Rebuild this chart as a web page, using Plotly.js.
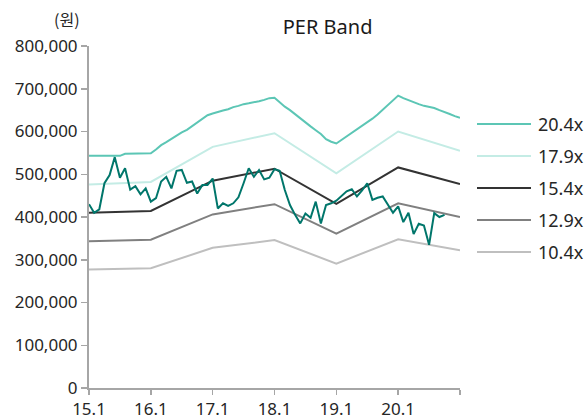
<!DOCTYPE html>
<html>
<head>
<meta charset="utf-8">
<script src="https://cdn.plot.ly/plotly-3.0.1.min.js"></script>
<style>
html,body{margin:0;padding:0;background:#fff;}
#chart{width:585px;height:419px;}
</style>
</head>
<body>
<div id="chart"></div>
<script>
// x positions: months since Jan 2015
var tickVals = [0, 12, 24, 36, 48, 60, 72];
var tickText = ['15.1', '16.1', '17.1', '18.1', '19.1', '20.1', ''];

// Band anchor months (yearly)
var bandMonths = [0, 12, 24, 36, 48, 60, 72];
var band179 = [476000, 482000, 564000, 596000, 502000, 600000, 555000];
var band154 = [410000, 414000, 485000, 513000, 431000, 516000, 477000];
var band129 = [343000, 347000, 406000, 430000, 361000, 432000, 400000];
var band104 = [277000, 280000, 328000, 346000, 291000, 348000, 322000];

// 20.4x band, monthly (m0..m72)
var band204 = [
  543000, 543000, 543000, 543000, 543000, 543000, 543000, 548000, 548000, 548000, 548000, 548000,
  549000, 558000, 568000, 575000, 583000, 590000, 598000, 604000, 612000, 620000, 630000, 638000,
  642000, 646000, 649000, 652000, 657000, 660000, 664000, 666000, 668000, 671000, 674000, 678000,
  679000, 668000, 658000, 650000, 640000, 630000, 620000, 612000, 603000, 594000, 582000, 576000,
  572000, 580000, 588000, 596000, 606000, 614000, 622000, 630000, 640000, 651000, 662000, 672000,
  684000, 678000, 673000, 668000, 664000, 660000, 658000, 655000, 650000, 646000, 641000, 636000,
  632000
];

// Monthly stock price (m0..m69)
var price = [
  430000, 410000, 418000, 479000, 498000, 540000, 492000, 514000, 464000, 472000, 453000, 467000,
  436000, 444000, 483000, 494000, 467000, 508000, 510000, 480000, 483000, 455000, 475000, 475000,
  490000, 420000, 432000, 426000, 432000, 446000, 479000, 514000, 494000, 510000, 488000, 492000,
  512000, 508000, 463000, 428000, 405000, 385000, 408000, 398000, 436000, 385000, 428000, 432000,
  438000, 450000, 460000, 465000, 448000, 462000, 479000, 440000, 445000, 448000, 430000, 410000,
  425000, 388000, 410000, 360000, 384000, 380000, 335000, 409000, 400000, 405000
];

var names = ['20.4x', '17.9x', '15.4x', '12.9x', '10.4x'];
var colors = ['#5cc6b5', '#c4ece5', '#333333', '#808080', '#bfbfbf'];

function idx(arr) { var o = []; for (var i = 0; i < arr.length; i++) o.push(i); return o; }

var traces = [
  {x: idx(band204), y: band204, name: names[0], line: {color: colors[0], width: 2}},
  {x: bandMonths, y: band179, name: names[1], line: {color: colors[1], width: 2}},
  {x: bandMonths, y: band154, name: names[2], line: {color: colors[2], width: 2}},
  {x: bandMonths, y: band129, name: names[3], line: {color: colors[3], width: 2}},
  {x: bandMonths, y: band104, name: names[4], line: {color: colors[4], width: 2}},
  {x: idx(price), y: price, name: '주가', line: {color: '#00766b', width: 2}}
];
traces.forEach(function (t) { t.type = 'scatter'; t.mode = 'lines'; t.hoverinfo = 'skip'; t.showlegend = false; });

var font = 'Noto Sans, Open Sans, DejaVu Sans, sans-serif';

// Legend drawn at the right side (plot area: 371 x 342 px)
var plotW = 371, plotH = 342;
var legLineX0 = (477 - 89) / plotW, legLineX1 = (531 - 89) / plotW, legTextX = (536 - 89) / plotW;
var legY0 = 124, legStep = 32;
var shapes = [], annotations = [];
for (var i = 0; i < names.length; i++) {
  var yp = (388 - (legY0 + i * legStep)) / plotH;
  shapes.push({type: 'line', xref: 'paper', yref: 'paper', x0: legLineX0, x1: legLineX1, y0: yp, y1: yp,
               line: {color: colors[i], width: 2}});
  annotations.push({text: names[i], xref: 'paper', yref: 'paper', x: legTextX, y: yp,
                    xanchor: 'left', yanchor: 'middle', showarrow: false,
                    font: {family: font, size: 18, color: '#262626'}});
}
annotations.push({text: '(원)', xref: 'paper', yref: 'paper', x: -0.059, y: 1.0, yshift: 27,
  xanchor: 'center', yanchor: 'middle', showarrow: false,
  font: {family: 'Noto Sans CJK KR, Noto Sans, sans-serif', size: 16, color: '#262626'}});

var layout = {
  width: 585, height: 419,
  margin: {l: 89, r: 125, t: 46, b: 31, pad: 0},
  paper_bgcolor: '#ffffff', plot_bgcolor: '#ffffff',
  font: {family: font, size: 16, color: '#262626'},
  title: {text: 'PER Band', font: {family: font, size: 20, color: '#1a1a1a'},
          x: 0.56, xref: 'container', xanchor: 'center', y: 0.935, yref: 'container', yanchor: 'middle'},
  xaxis: {
    range: [0, 72], tickmode: 'array', tickvals: tickVals, ticktext: tickText,
    showgrid: false, zeroline: false, showline: true, linecolor: '#a6a6a6', linewidth: 2,
    ticks: 'outside', ticklen: 5, tickwidth: 1.5, tickcolor: '#a6a6a6',
    tickfont: {family: font, size: 17, color: '#262626'}, fixedrange: true, automargin: false
  },
  yaxis: {
    range: [0, 800000], tickmode: 'linear', tick0: 0, dtick: 100000, tickformat: ',d',
    showgrid: false, zeroline: false, showline: true, linecolor: '#a6a6a6', linewidth: 2,
    ticks: 'outside', ticklen: 6, tickwidth: 1.5, tickcolor: '#a6a6a6',
    tickfont: {family: font, size: 17, color: '#262626'}, fixedrange: true, automargin: false
  },
  showlegend: false,
  shapes: shapes,
  annotations: annotations
};

Plotly.newPlot('chart', traces, layout, {displayModeBar: false, staticPlot: true});
</script>
</body>
</html>
